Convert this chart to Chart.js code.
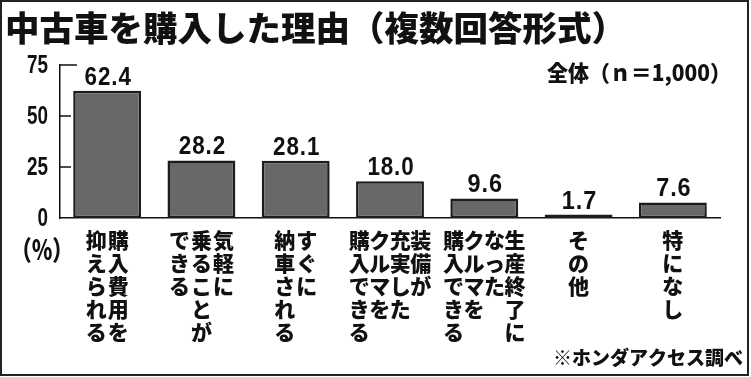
<!DOCTYPE html>
<html lang="ja">
<head>
<meta charset="utf-8">
<title>中古車を購入した理由</title>
<script src="https://cdn.jsdelivr.net/npm/chart.js"></script>
<style>
  html, body { margin: 0; padding: 0; background: #fff; }
  canvas { display: block; }
</style>
</head>
<body>
<canvas id="reasonChart" width="751" height="377"></canvas>
<script>
// ---- data ----
const categories = ['購入費用を抑えられる', '気軽に乗ることができる', 'すぐに納車される',
  '装備が充実したクルマを購入できる', '生産終了になったクルマを購入できる', 'その他', '特になし'];
// vertical label columns, in reading order (right to left)
const labelColumns = [
  ['購入費用を', '抑えられる'],
  ['気軽に', '乗ることが', 'できる'],
  ['すぐに', '納車される'],
  ['装備が', '充実した', 'クルマを', '購入できる'],
  ['生産終了に', 'なった', 'クルマを', '購入できる'],
  ['その他'],
  ['特になし']
];
const values = [62.4, 28.2, 28.1, 18.0, 9.6, 1.7, 7.6];
const yTicks = [0, 25, 50, 75];

const titleText = '中古車を購入した理由（複数回答形式）';
const sampleText = '全体（ｎ＝1,000）';
const unitText = '（％）';
const sourceText = '※ホンダアクセス調べ';

const jpFont = '"Noto Sans CJK JP", "Noto Sans CJK SC", sans-serif';
const numFont = '"Liberation Sans", Arial, sans-serif';
const ink = '#111';

// draws title, notes, y tick labels/marks, value labels and vertical category labels
const decorations = {
  id: 'decorations',
  afterDraw(chart) {
    const ctx = chart.ctx;
    const x = chart.scales.x;
    const y = chart.scales.y;
    ctx.save();
    ctx.fillStyle = ink;
    ctx.strokeStyle = '#222';

    // frame
    ctx.lineWidth = 2;
    ctx.strokeRect(1, 1, 747, 374);

    // title
    ctx.font = '900 34.5px ' + jpFont;
    ctx.textAlign = 'left';
    ctx.textBaseline = 'middle';
    ctx.fillText(titleText, 5, 28);

    // notes
    ctx.font = '900 22px ' + jpFont;
    ctx.textAlign = 'right';
    ctx.fillText(sampleText, 731, 73, 184);
    ctx.font = '900 27px ' + jpFont;
    ctx.textAlign = 'center';
    ctx.fillText(unitText, 42, 250, 62);
    ctx.font = '900 19px ' + jpFont;
    ctx.textAlign = 'right';
    ctx.fillText(sourceText, 743, 358);

    // y tick labels (condensed) and tick marks pointing into the plot
    ctx.font = 'bold 25px ' + numFont;
    ctx.textAlign = 'right';
    ctx.strokeStyle = ink;
    ctx.lineWidth = 1.5;
    yTicks.forEach(v => {
      const py = y.getPixelForValue(v);
      const label = String(v);
      ctx.fillText(label, x.left - 12, py + 1, 10.5 * label.length);
      if (v === 0) return;
      const len = v === y.max ? 17 : 11;
      ctx.beginPath();
      ctx.moveTo(x.left, py);
      ctx.lineTo(x.left + len, py);
      ctx.stroke();
    });

    // value labels above bars
    const meta = chart.getDatasetMeta(0);
    ctx.font = 'bold 25px ' + numFont;
    ctx.letterSpacing = '1px';
    ctx.textAlign = 'center';
    ctx.textBaseline = 'alphabetic';
    meta.data.forEach((bar, i) => {
      const label = values[i].toFixed(1);
      ctx.fillText(label, bar.x + 1, bar.y - 6, 11.8 * label.length);
    });
    ctx.letterSpacing = '0px';

    // vertical category labels
    ctx.font = '900 21px ' + jpFont;
    ctx.textAlign = 'center';
    ctx.textBaseline = 'middle';
    labelColumns.forEach((cols, i) => {
      const cx = x.getPixelForValue(i);
      const pitch = Math.min(22, 82 / cols.length);
      cols.forEach((col, j) => {
        const colX = cx + ((cols.length - 1) / 2 - j) * pitch;
        [...col].forEach((ch, k) => {
          ctx.fillText(ch, colX, 240 + k * 23);
        });
      });
    });

    ctx.restore();
  }
};

new Chart(document.getElementById('reasonChart'), {
  type: 'bar',
  data: {
    labels: categories,
    datasets: [{
      data: values,
      backgroundColor: '#686868',
      borderColor: '#1c1c1c',
      borderWidth: 2.5,
      borderSkipped: false,
      barPercentage: 0.72,
      categoryPercentage: 1
    }]
  },
  options: {
    responsive: false,
    animation: false,
    devicePixelRatio: 1,
    layout: { padding: { top: 65, right: 31, bottom: 159, left: 0 } },
    plugins: {
      legend: { display: false },
      title: { display: false },
      tooltip: { enabled: false }
    },
    scales: {
      x: {
        grid: { display: false, drawTicks: false },
        border: { display: true, color: ink, width: 1.5 },
        ticks: { display: false },
        afterFit(s) { s.height = 0; }
      },
      y: {
        min: 0,
        max: 75,
        afterBuildTicks(s) { s.ticks = yTicks.map(v => ({ value: v })); },
        grid: { display: false, drawTicks: false },
        border: { display: true, color: ink, width: 1.5 },
        ticks: { display: false },
        afterFit(s) { s.width = 60; }
      }
    }
  },
  plugins: [decorations]
});
</script>
</body>
</html>
